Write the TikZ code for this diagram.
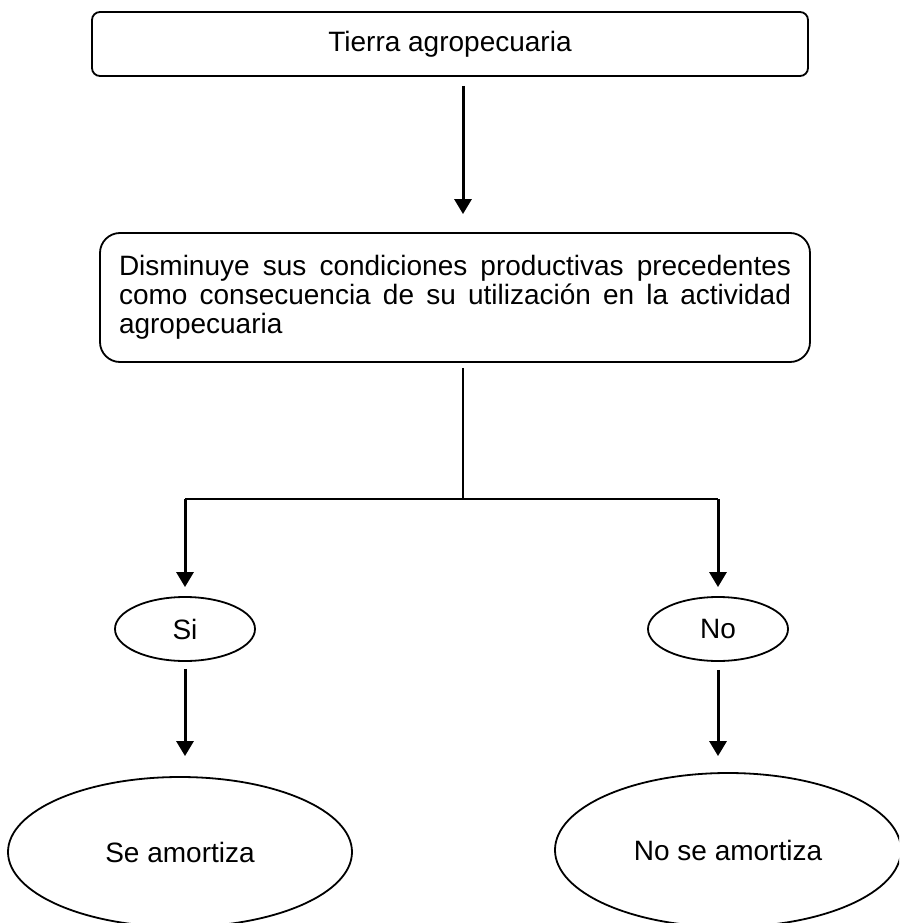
\documentclass[tikz,border=0pt]{standalone}
\usepackage{fontspec}
\setmainfont{Liberation Sans}
\usetikzlibrary{shapes.geometric,arrows.meta}
\begin{document}
\begin{tikzpicture}[x=1pt,y=-1pt,
        caja/.style={draw,line width=1.8pt,rectangle},
        elipse/.style={draw,line width=1.8pt,ellipse,inner sep=0pt},
        flecha/.style={line width=3pt,-{Triangle[length=15pt,width=17pt]}},
        font=\fontsize{28}{29}\selectfont]
        \useasboundingbox (0,0) rectangle (899,923);
        \clip (0,0) rectangle (899,923);
        \node[caja,rounded corners=8pt,minimum width=716pt,minimum height=64pt] (tierra) at (450,44) {Tierra agropecuaria};
        \node[caja,rounded corners=20pt,minimum width=710pt,minimum height=129pt,text width=672pt,inner xsep=19pt,align=justify] (dismin) at (455,297.5) {Disminuye sus condiciones productivas precedentes\linebreak como consecuencia de su utilización en la actividad\linebreak agropecuaria};
        \coordinate (bar) at (463,499);
        \coordinate (barL) at (185,499);
        \coordinate (barR) at (718,499);
        \node[elipse,minimum width=140pt,minimum height=64pt] (si) at (185,629) {Si};
        \node[elipse,minimum width=140pt,minimum height=64pt] (no) at (718,629) {No};
        \node[elipse,minimum width=344pt,minimum height=150pt] (se) at (180,852) {Se amortiza};
        \node[elipse,minimum width=346pt,minimum height=154pt] (nose) at (728,850) {No se amortiza};
        \draw[flecha,shorten <=9pt,shorten >=18pt] (tierra.south -| bar)--(dismin.north -| bar);
        \draw[line width=2.2pt,shorten <=5pt] (dismin.south -| bar)--(bar);
        \draw[line width=2.2pt] (barL)--(barR);
        \draw[flecha,shorten >=9pt] (barL)--(si);
        \draw[flecha,shorten >=9pt] (barR)--(no);
        \draw[flecha,shorten <=7pt,shorten >=20pt] (si.south)--(si.south |- se.north);
        \draw[flecha,shorten <=8pt,shorten >=16pt] (no.south)--(no.south |- nose.north);
\end{tikzpicture}
\end{document}
